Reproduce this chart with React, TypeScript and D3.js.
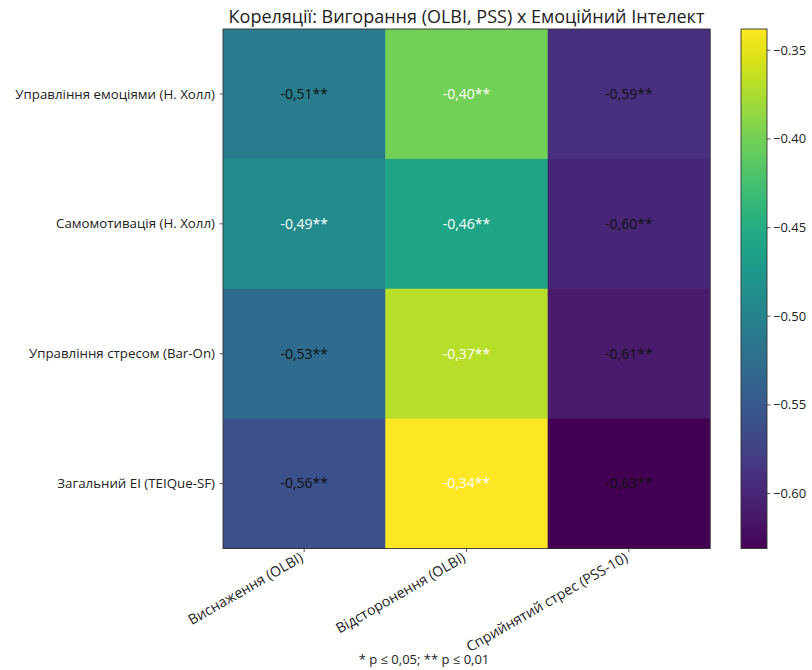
import React, { useEffect, useRef } from "react";
import * as d3 from "d3";

const title = "Кореляції: Вигорання (OLBI, PSS) х Емоційний Інтелект";
const rowLabels = [
  "Управління емоціями (Н. Холл)",
  "Самомотивація (Н. Холл)",
  "Управління стресом (Bar-On)",
  "Загальний EI (TEIQue-SF)",
];
const colLabels = ["Виснаження (OLBI)", "Відсторонення (OLBI)", "Сприйнятий стрес (PSS-10)"];
const valuesOLBIExhaustion = [-0.51, -0.49, -0.53, -0.56];
const valuesOLBIDetachment = [-0.40, -0.46, -0.37, -0.338];
const valuesPSS = [-0.59, -0.60, -0.61, -0.631];
const significance = [
  ["**", "**", "**"],
  ["**", "**", "**"],
  ["**", "**", "**"],
  ["**", "**", "**"],
];
const colorbarTicks = [-0.35, -0.4, -0.45, -0.5, -0.55, -0.6];
const footnote = "* p ≤ 0,05; ** p ≤ 0,01";

const FONT = "'Open Sans', Roboto, sans-serif";

export default function App() {
  const ref = useRef<SVGSVGElement>(null);

  useEffect(() => {
    document.body.style.margin = "0";
    const svg = d3.select(ref.current);
    svg.selectAll("*").remove();

    const W = 812, H = 670;
    const left = 223, right = 710, top = 29, bottom = 548.5;
    const columns = [valuesOLBIExhaustion, valuesOLBIDetachment, valuesPSS];
    const cells: { r: number; c: number; v: number }[] = [];
    rowLabels.forEach((_, r) => colLabels.forEach((__, c) => cells.push({ r, c, v: columns[c][r] })));
    const all = cells.map((d) => d.v);
    const vmin = d3.min(all)!, vmax = d3.max(all)!;
    const color = d3.scaleSequential(d3.interpolateViridis).domain([vmin, vmax]);

    const x = d3.scaleBand<number>().domain(colLabels.map((_, i) => i)).range([left, right]);
    const y = d3.scaleBand<number>().domain(rowLabels.map((_, i) => i)).range([top, bottom]);

    svg.attr("width", W).attr("height", H).style("font-family", FONT).style("display", "block");
    svg.append("rect").attr("width", W).attr("height", H).attr("fill", "#fff");

    svg.append("g").selectAll("rect").data(cells).join("rect")
      .attr("x", (d) => x(d.c)!).attr("y", (d) => y(d.r)!)
      .attr("width", x.bandwidth() + 0.5).attr("height", y.bandwidth() + 0.5)
      .attr("fill", (d) => color(d.v));

    const fmt = (v: number) => v.toFixed(2).replace(".", ",");
    svg.append("g").selectAll("text").data(cells).join("text")
      .attr("x", (d) => x(d.c)! + x.bandwidth() / 2)
      .attr("y", (d) => y(d.r)! + y.bandwidth() / 2)
      .attr("dy", "0.35em").attr("text-anchor", "middle")
      .attr("font-size", 14)
      .attr("fill", (d) => (d.v > -0.5 ? "#ffffff" : "#111111"))
      .text((d) => fmt(d.v) + significance[d.r][d.c]);

    svg.append("rect").attr("x", left).attr("y", top).attr("width", right - left).attr("height", bottom - top)
      .attr("fill", "none").attr("stroke", "#333").attr("stroke-width", 0.9);

    // y axis
    const yg = svg.append("g");
    rowLabels.forEach((lab, i) => {
      const yy = y(i)! + y.bandwidth() / 2;
      yg.append("line").attr("x1", left - 3.5).attr("x2", left).attr("y1", yy).attr("y2", yy).attr("stroke", "#333").attr("stroke-width", 0.8);
      yg.append("text").attr("x", left - 8).attr("y", yy).attr("dy", "0.35em").attr("text-anchor", "end")
        .attr("font-size", 13.3).attr("fill", "#222").text(lab);
    });

    // x axis
    const xg = svg.append("g");
    colLabels.forEach((lab, i) => {
      const xx = x(i)! + x.bandwidth() / 2;
      xg.append("line").attr("x1", xx).attr("x2", xx).attr("y1", bottom).attr("y2", bottom + 3.5).attr("stroke", "#333").attr("stroke-width", 0.8);
      xg.append("text").attr("transform", `translate(${xx},${bottom + 12}) rotate(-30)`)
        .attr("text-anchor", "end")
        .attr("font-size", 14.2).attr("fill", "#222").text(lab);
    });

    // title
    svg.append("text").attr("x", (left + right) / 2).attr("y", 23).attr("text-anchor", "middle")
      .attr("font-size", 18).attr("fill", "#222").text(title);

    // colorbar
    const cbL = 741, cbR = 767;
    const defs = svg.append("defs");
    const grad = defs.append("linearGradient").attr("id", "cbgrad").attr("x1", 0).attr("x2", 0).attr("y1", 1).attr("y2", 0);
    d3.range(0, 1.0001, 0.02).forEach((t) => {
      grad.append("stop").attr("offset", t).attr("stop-color", d3.interpolateViridis(t));
    });
    svg.append("rect").attr("x", cbL).attr("y", top).attr("width", cbR - cbL).attr("height", bottom - top)
      .attr("fill", "url(#cbgrad)").attr("stroke", "#333").attr("stroke-width", 0.9);
    const cy = d3.scaleLinear().domain([vmin, vmax]).range([bottom, top]);
    colorbarTicks.forEach((t) => {
      const yy = cy(t);
      svg.append("line").attr("x1", cbR).attr("x2", cbR + 3.5).attr("y1", yy).attr("y2", yy).attr("stroke", "#333").attr("stroke-width", 0.8);
      svg.append("text").attr("x", cbR + 6).attr("y", yy).attr("dy", "0.35em").attr("font-size", 13).attr("fill", "#222")
        .text(t.toFixed(2).replace("-", "−"));
    });

    // footnote
    svg.append("text").attr("x", 424).attr("y", 664).attr("text-anchor", "middle")
      .attr("font-size", 13).attr("fill", "#222").text(footnote);
  }, []);

  return <svg ref={ref} />;
}
